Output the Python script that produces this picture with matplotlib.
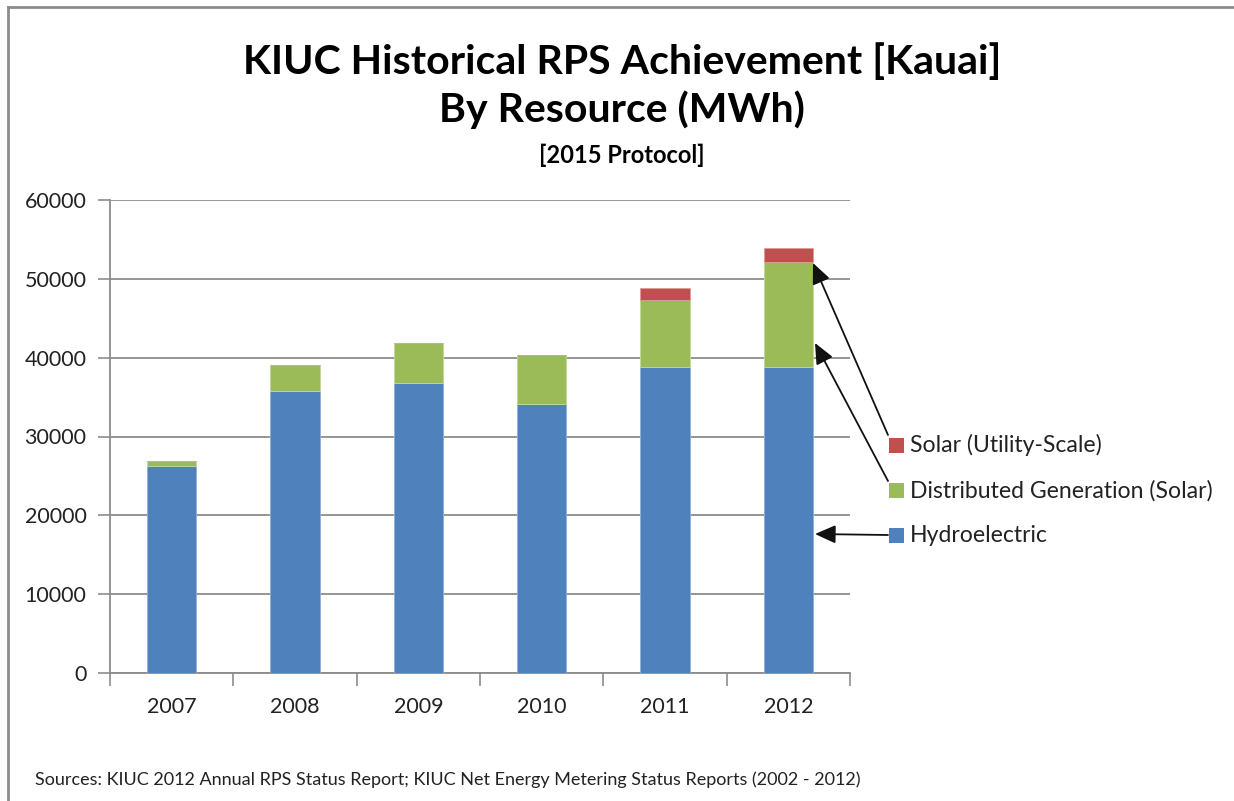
import matplotlib
matplotlib.use("Agg")
import matplotlib.pyplot as plt
from matplotlib.lines import Line2D
from matplotlib.patches import Rectangle, FancyArrowPatch
import numpy as np

years = ["2007", "2008", "2009", "2010", "2011", "2012"]
hydro = [26300, 35800, 36800, 34100, 38800, 38800]
dist_gen = [630, 3270, 5000, 6200, 8500, 13300]
solar_utility = [0, 0, 0, 0, 1500, 1850]
series_labels = ["Hydroelectric", "Distributed Generation (Solar)", "Solar (Utility-Scale)"]
colors = ["#4F81BD", "#9BBB59", "#C0504D"]
yticks = [0, 10000, 20000, 30000, 40000, 50000, 60000]

FONT = "Lato"
W, H = 1234, 801
fig = plt.figure(figsize=(W / 100, H / 100), dpi=100)
fig.patch.set_facecolor("white")

def fx(px):
    return px / W

def fy(py):
    return 1 - py / H

ax = fig.add_axes([fx(110), fy(673), fx(850) - fx(110), fy(200) - fy(673)])
x = np.arange(len(years))
bw = 0.4
hydro_a = np.array(hydro)
dg_a = np.array(dist_gen)
su_a = np.array(solar_utility)
ax.bar(x, hydro_a, bw, color=colors[0], zorder=3, edgecolor="#8fb0d8", linewidth=0.6)
ax.bar(x, dg_a, bw, bottom=hydro_a, color=colors[1], zorder=3, edgecolor="#c4d99b", linewidth=0.6)
ax.bar(x, su_a, bw, bottom=hydro_a + dg_a, color=colors[2], zorder=3, edgecolor="#dd9a98", linewidth=0.6)

ax.set_xlim(-0.5, len(years) - 0.5)
ax.set_ylim(0, 60000)
ax.set_yticks(yticks)
ax.set_yticklabels([str(v) for v in yticks], fontsize=15.5, family=FONT, color="#222222")
ax.yaxis.grid(True, color="#8c8c8c", linewidth=1.3, zorder=0)
ax.set_axisbelow(True)

ax.set_xticks(np.arange(len(years) + 1) - 0.5)
ax.set_xticklabels([])
ax.set_xticks(x, minor=True)
ax.set_xticklabels(years, minor=True, fontsize=15.5, family=FONT, color="#222222")
ax.tick_params(axis="x", which="major", length=9, color="#8c8c8c", width=1.2)
ax.tick_params(axis="x", which="minor", length=0, pad=17)
ax.tick_params(axis="y", length=9, color="#8c8c8c", width=1.2, pad=8)

for s in ["top", "right"]:
    ax.spines[s].set_visible(False)
for s in ["left", "bottom"]:
    ax.spines[s].set_color("#8c8c8c")
    ax.spines[s].set_linewidth(1.3)

# Titles
fig.text(fx(622), fy(62), "KIUC Historical RPS Achievement [Kauai]", ha="center", va="center",
         fontsize=29.5, fontweight="bold", family=FONT, color="#000000")
fig.text(fx(622), fy(110), "By Resource (MWh)", ha="center", va="center",
         fontsize=29.5, fontweight="bold", family=FONT, color="#000000")
fig.text(fx(622), fy(155), "[2015 Protocol]", ha="center", va="center",
         fontsize=17, fontweight="bold", family=FONT, color="#000000")

# Legend (manual, with arrows)
leg_rows = [(series_labels[2], colors[2], 445), (series_labels[1], colors[1], 490.5), (series_labels[0], colors[0], 535.5)]
for lab, col, cy in leg_rows:
    fig.patches.append(Rectangle((fx(889), fy(cy + 7.5)), fx(15), 15 / H, transform=fig.transFigure,
                                 facecolor=col, edgecolor="none"))
    fig.text(fx(910), fy(cy), lab, ha="left", va="center", fontsize=16.6, family=FONT, color="#222222")

def ann(tail_px, head_px):
    fig.add_artist(FancyArrowPatch(
        (fx(tail_px[0]), fy(tail_px[1])), (fx(head_px[0]), fy(head_px[1])),
        transform=fig.transFigure, arrowstyle="-|>,head_length=0.9,head_width=0.4",
        mutation_scale=14, color="#111111", linewidth=1.3, shrinkA=0, shrinkB=0))

ann((888, 435), (813, 263))
ann((888, 481), (815, 343))
ann((888, 535), (815, 534))

fig.text(fx(35), fy(780), "Sources: KIUC 2012 Annual RPS Status Report; KIUC Net Energy Metering Status Reports (2002 - 2012)",
         ha="left", va="center", fontsize=13, family=FONT, color="#222222")

# Figure border
fig.add_artist(Line2D([fx(8), 1], [fy(7), fy(7)], transform=fig.transFigure, color="#8c8c8c", linewidth=2))
fig.add_artist(Line2D([fx(8), fx(8)], [fy(7), 0], transform=fig.transFigure, color="#8c8c8c", linewidth=2))

fig.savefig("out.png", dpi=100, facecolor="white")
